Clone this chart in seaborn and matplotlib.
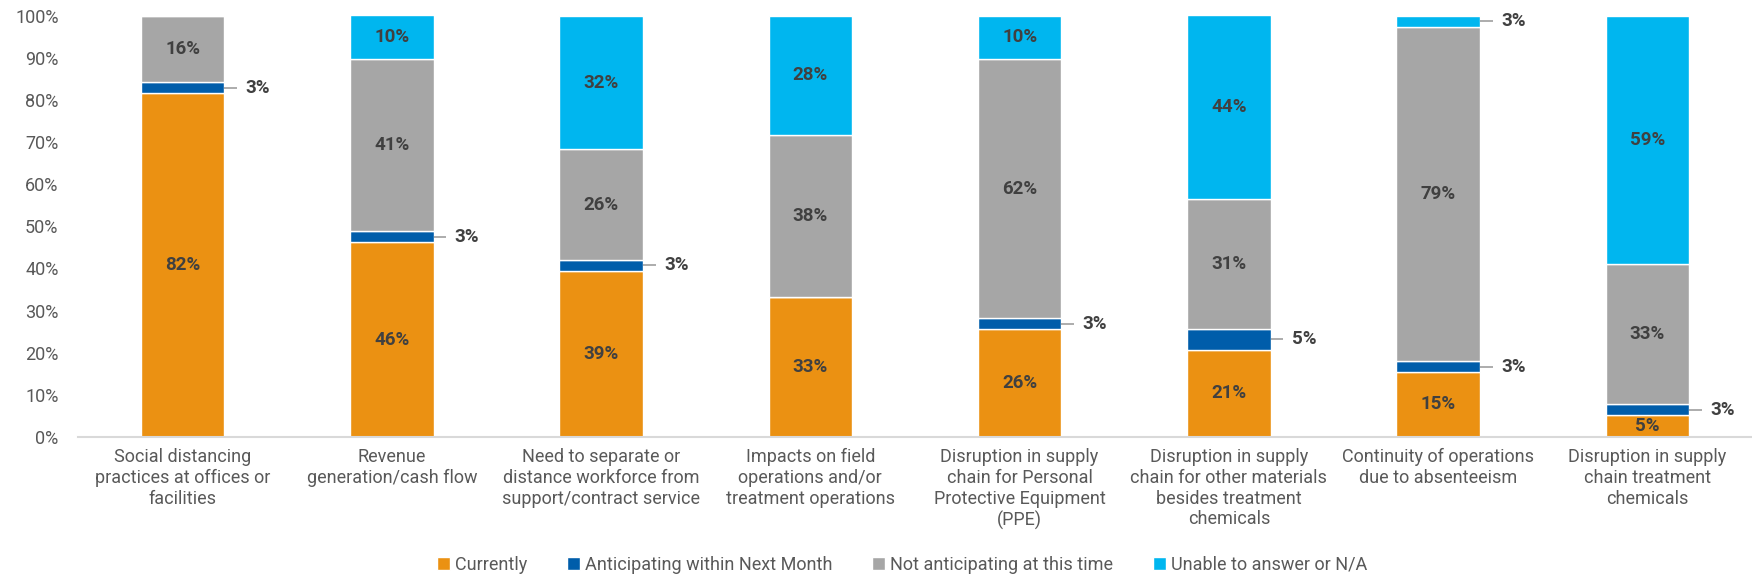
import numpy as np
import pandas as pd
import matplotlib.pyplot as plt
from matplotlib.patches import Patch
import seaborn as sns

CATEGORIES = [
    'Social distancing\npractices at offices or\nfacilities',
    'Revenue\ngeneration/cash flow',
    'Need to separate or\ndistance workforce from\nsupport/contract service',
    'Impacts on field\noperations and/or\ntreatment operations',
    'Disruption in supply\nchain for Personal\nProtective Equipment\n(PPE)',
    'Disruption in supply\nchain for other materials\nbesides treatment\nchemicals',
    'Continuity of operations\ndue to absenteeism',
    'Disruption in supply\nchain treatment\nchemicals',
]
SERIES = ['Currently', 'Anticipating within Next Month',
          'Not anticipating at this time', 'Unable to answer or N/A']
CURRENTLY = [81.6, 46.2, 39.4, 33.3, 25.6, 20.6, 15.4, 5.1]
ANTICIPATING = [2.6, 2.6, 2.6, 0.0, 2.6, 5.1, 2.6, 2.6]
NOT_ANTICIPATING = [15.8, 41.0, 26.3, 38.5, 61.5, 30.8, 79.4, 33.3]
UNABLE = [0.0, 10.3, 31.6, 28.2, 10.3, 43.6, 2.6, 59.0]
COLORS = ['#EB9112', '#005DAA', '#A6A6A6', '#00B6EF']

TEXT = '#595959'
LABEL = '#404040'


def main():
    sns.set_style('white')
    plt.rcParams['font.family'] = ['Roboto', 'DejaVu Sans']

    df = pd.DataFrame({'category': CATEGORIES,
                       SERIES[0]: CURRENTLY, SERIES[1]: ANTICIPATING,
                       SERIES[2]: NOT_ANTICIPATING, SERIES[3]: UNABLE})

    fig = plt.figure(figsize=(17.52, 5.84), dpi=100)
    ax = fig.add_axes([0.0445, 0.252, 0.9555, 0.721])

    bottom = np.zeros(len(CATEGORIES))
    for name, color in zip(SERIES, COLORS):
        sns.barplot(data=df, x='category', y=name, color=color, width=0.4,
                    saturation=1, bottom=bottom.copy(), ax=ax)
        for i, v in enumerate(df[name]):
            if v <= 0:
                continue
            mid = bottom[i] + v / 2
            if name == SERIES[1] or v < 4:
                ax.plot([i + 0.2, i + 0.26], [mid, mid], color='#A6A6A6',
                        lw=1.3, solid_capstyle='butt')
                ax.text(i + 0.3, mid, f'{v:.0f}%', ha='left', va='center',
                        fontsize=13.5, fontweight='bold', color=LABEL)
            else:
                ax.text(i, mid, f'{v:.0f}%', ha='center', va='center',
                        fontsize=13.5, fontweight='bold', color=LABEL)
        bottom += df[name].to_numpy()

    ax.set_xlim(-0.5, 7.5)
    ax.set_ylim(0, 100)
    ax.set_yticks(range(0, 101, 10))
    ax.set_yticklabels([f'{t}%' for t in range(0, 101, 10)])
    ax.set_xlabel('')
    ax.set_ylabel('')
    ax.tick_params(axis='y', length=0, pad=14, labelsize=13, labelcolor=TEXT)
    ax.tick_params(axis='x', length=0, pad=8, labelsize=13, labelcolor=TEXT)
    sns.despine(ax=ax, left=True)
    ax.spines['bottom'].set_color('#D9D9D9')
    ax.spines['bottom'].set_linewidth(1.5)

    handles = [Patch(facecolor=c, label=s) for s, c in zip(SERIES, COLORS)]
    fig.legend(handles=handles, loc='lower center', ncol=4,
               bbox_to_anchor=(0.515, -0.01), frameon=False, fontsize=13,
               labelcolor=TEXT, handlelength=0.7, handleheight=0.7,
               handletextpad=0.3, columnspacing=2.2)

    fig.savefig('out.png', dpi=100)


if __name__ == '__main__':
    main()
